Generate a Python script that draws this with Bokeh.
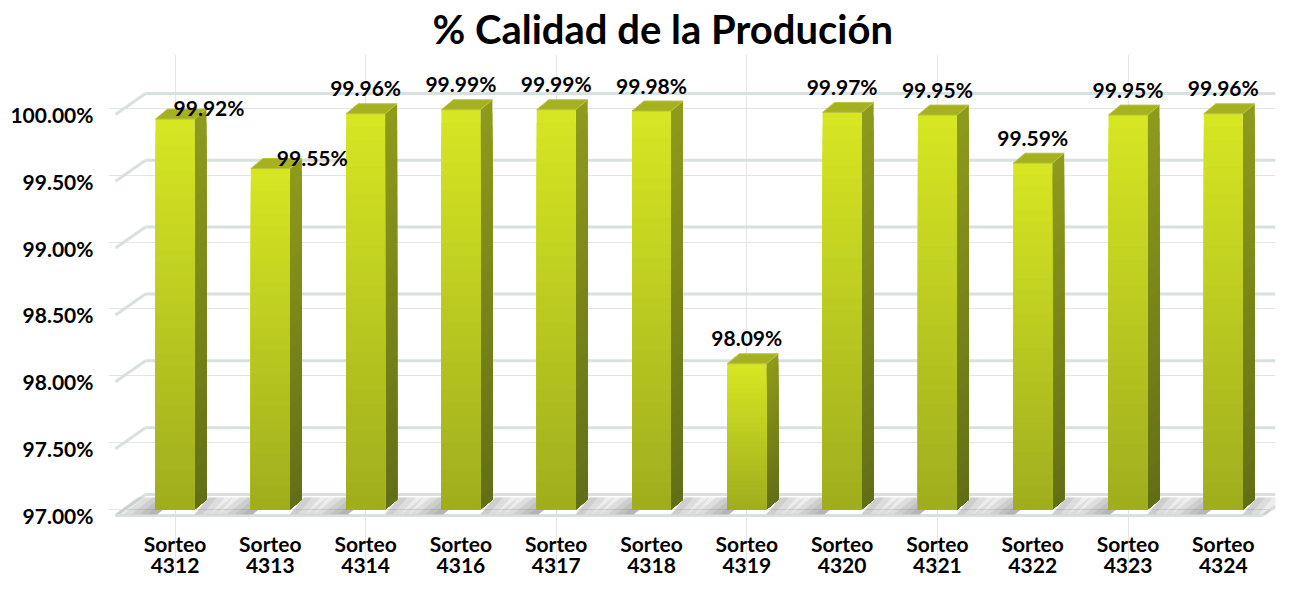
from bokeh.plotting import figure
from bokeh.models import Range1d, LinearAxis, FixedTicker, PrintfTickFormatter, ColumnDataSource
from bokeh.core.properties import value
from bokeh.embed import file_html
from bokeh.resources import INLINE

# ---------------- data ----------------
categories = ["Sorteo 4312", "Sorteo 4313", "Sorteo 4314", "Sorteo 4316", "Sorteo 4317", "Sorteo 4318",
              "Sorteo 4319", "Sorteo 4320", "Sorteo 4321", "Sorteo 4322", "Sorteo 4323", "Sorteo 4324"]
calidad = [99.92, 99.55, 99.96, 99.99, 99.99, 99.98, 98.09, 99.97, 99.95, 99.59, 99.95, 99.96]
tick_values = [97.0, 97.5, 98.0, 98.5, 99.0, 99.5, 100.0]
title_text = "% Calidad de la Produción"

# ---------------- geometry (canvas pixels -> data units) ----------------
W, H = 1277, 576
PX_X = 95.3        # px per category
PX_Y = 133.7       # px per 1 %
X0_PX = 174.5      # canvas x of first bar centre
BASE = 97.0
BASE_PX = 509      # canvas y of the 97 % level (bar plane)
FONT = "Lato"
FRAME_LEFT, FRAME_RIGHT = 108, W - 2
FRAME_TOP, FRAME_BOT = 54, H

x_start = (FRAME_LEFT - X0_PX) / PX_X
x_end = (FRAME_RIGHT - X0_PX) / PX_X
y_end = BASE + (BASE_PX - FRAME_TOP) / PX_Y
y_start = BASE - (FRAME_BOT - BASE_PX) / PX_Y

half_w = 19.5 / PX_X
side_dx = 12 / PX_X
side_dy = 10 / PX_Y
wall_dx = 30 / PX_X
front_dy = 6 / PX_Y
back_dy = 15 / PX_Y

p = figure(width=W, height=H, output_backend="svg", toolbar_location=None,
           x_range=Range1d(x_start, x_end), y_range=Range1d(y_start, y_end),
           x_axis_location=None, y_axis_location=None,
           min_border_left=FRAME_LEFT, min_border_right=W - FRAME_RIGHT,
           min_border_top=42, min_border_bottom=0)
p.outline_line_color = None
p.background_fill_color = "white"
p.border_fill_color = "white"

p.title.text = title_text
p.title.align = "left"
p.title.offset = 432 - FRAME_LEFT
p.title.text_font = FONT
p.title.text_font_style = "bold"
p.title.text_font_size = "40px"
p.title.text_color = "#000000"
p.title.standoff = 4

p.extra_y_ranges = {"ytick": Range1d(y_start + front_dy, y_end + front_dy)}
yaxis = LinearAxis(y_range_name="ytick", ticker=FixedTicker(ticks=tick_values),
                   formatter=PrintfTickFormatter(format="%.2f%%"))
yaxis.axis_line_color = None
yaxis.major_tick_line_color = None
yaxis.minor_tick_line_color = None
yaxis.major_tick_out = 0
yaxis.major_tick_in = 0
yaxis.major_label_standoff = 15
yaxis.major_label_text_font = FONT
yaxis.major_label_text_font_style = "bold"
yaxis.major_label_text_font_size = "21px"
yaxis.major_label_text_color = "#000000"
p.add_layout(yaxis, "left")

# ---------------- gridlines (back wall + left side wall) ----------------
gx0, gy0, gx1, gy1 = [], [], [], []
fx = (115 - X0_PX) / PX_X
bx = fx + wall_dx
for t in tick_values:
    gx0 += [fx, bx]
    gy0 += [t - front_dy, t + back_dy]
    gx1 += [bx, x_end]
    gy1 += [t + back_dy, t + back_dy]
floor_right = (1262 - X0_PX) / PX_X
gx0 += [fx, floor_right]
gy0 += [BASE - front_dy, BASE - front_dy]
gx1 += [floor_right, floor_right + wall_dx]
gy1 += [BASE - front_dy, BASE + back_dy]
p.segment(gx0, gy0, gx1, gy1, line_color="#D9E0E0", line_width=3)

# ---------------- floor shadows ----------------
sh_xs, sh_ys = [], []
yF = BASE - 0.8 * front_dy
yB = BASE + 0.8 * back_dy
for i in range(len(calidad)):
    xl = i - half_w
    xr = i + half_w
    for j in range(5):
        w = 0.42 * (1 - j / 5.0)
        sh_xs.append([xl - w, xl + 0.02, xl + 0.02 + 0.22, xl - w + 0.22])
        sh_ys.append([yF, yF, yB, yB])
    for j in range(3):
        w = 0.25 * (1 - j / 3.0)
        sh_xs.append([xr, xr + w, xr + w + 0.15, xr + 0.15])
        sh_ys.append([yF, yF, yB, yB])
p.patches(sh_xs, sh_ys, fill_color="#5a5a5a", fill_alpha=0.11, line_color=None)

# ---------------- 3D bars with gradient ----------------
def lerp(c1, c2, t):
    return "#%02x%02x%02x" % tuple(int(round(a + (b - a) * t)) for a, b in zip(c1, c2))

FRONT_TOP, FRONT_BOT = (214, 230, 34), (158, 172, 30)
SIDE_TOP, SIDE_BOT = (142, 154, 28), (98, 110, 22)
TOP_FACE = "#A6B121"
N = 30

fl, fr, fb, ft, fc = [], [], [], [], []
sx, sy, sc = [], [], []
for k in range(N):
    frac = k / N
    for i, v in enumerate(calidad):
        top = v - (v - BASE) * frac
        xl, xr = i - half_w, i + half_w
        fl.append(xl); fr.append(xr); fb.append(BASE); ft.append(top)
        fc.append(lerp(FRONT_TOP, FRONT_BOT, frac))
        sx.append([xr, xr + side_dx, xr + side_dx, xr])
        sy.append([BASE, BASE + side_dy, top + side_dy, top])
        sc.append(lerp(SIDE_TOP, SIDE_BOT, frac))

p.patches(sx, sy, fill_color=sc, line_color=None)
p.quad(left=fl, right=fr, bottom=fb, top=ft, fill_color=fc, line_color=None)

tx, ty = [], []
for i, v in enumerate(calidad):
    xl, xr = i - half_w, i + half_w
    tx.append([xl, xr, xr + side_dx, xl + side_dx])
    ty.append([v, v, v + side_dy, v + side_dy])
p.patches(tx, ty, fill_color=TOP_FACE, line_color="#B9C43A", line_width=1)

# ---------------- data labels ----------------
label_dx = [34, 42, 0, 0, 0, 0, 0, 0, 0, 0, 0, 0]
label_dy = [-12, -11, -26, -26, -26, -26, -26, -26, -26, -26, -26, -26]
lab = ColumnDataSource(dict(
    x=list(range(len(calidad))), y=calidad,
    text=["%.2f%%" % v for v in calidad],
    dx=label_dx, dy=label_dy))
p.text(x="x", y="y", text="text", x_offset="dx", y_offset="dy", source=lab,
       text_font=value(FONT), text_font_style="bold", text_font_size="21px",
       text_align="center", text_baseline="middle", text_color="#000000")

# ---------------- category labels (two lines under each bar) ----------------
cat = ColumnDataSource(dict(
    x=list(range(len(categories))), y=[BASE] * len(categories),
    l1=[c.split(" ")[0] for c in categories],
    l2=[c.split(" ")[1] for c in categories]))
for col, off in (("l1", 34), ("l2", 56)):
    p.text(x="x", y="y", text=col, y_offset=off, source=cat,
           text_font=value(FONT), text_font_style="bold", text_font_size="21px",
           text_align="center", text_baseline="middle", text_color="#000000")

open("out.html", "w").write(file_html(p, INLINE))
